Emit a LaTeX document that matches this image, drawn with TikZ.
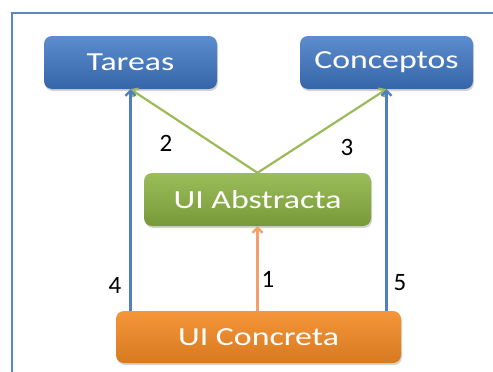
\documentclass[tikz,border=0pt]{standalone}
\usepackage{fontspec}
\setmainfont{Carlito}
\newfontfamily\boxfont{Carlito}[FakeStretch=1.3]
\usetikzlibrary{arrows.meta,shadows}

\definecolor{frameblue}{HTML}{5A87C8}
\definecolor{boxblue}{HTML}{3F78C6}
\definecolor{boxgreen}{HTML}{8DB443}
\definecolor{boxorange}{HTML}{F48A24}
\definecolor{lineblue}{HTML}{4F7FC0}
\definecolor{linegreen}{HTML}{9BBB59}
\definecolor{lineorange}{HTML}{F4A06A}

\tikzset{
  layer/.style={rounded corners=8pt, text=white, font=\boxfont\fontsize{26}{28}\selectfont,
    drop shadow={shadow xshift=1pt, shadow yshift=-2pt, opacity=.35}},
  bluebox/.style={layer, top color=boxblue!85!white, bottom color=boxblue!85!black},
  greenbox/.style={layer, top color=boxgreen!88!white, bottom color=boxgreen!85!black},
  orangebox/.style={layer, top color=boxorange!90!white, bottom color=boxorange!88!black},
  link/.style={line width=2.2pt, -{Straight Barb[length=5pt,width=10pt]}},
  num/.style={font=\fontsize{25}{27}\selectfont, text=black}
}

\begin{document}
\begin{tikzpicture}[x=1pt, y=-1pt]
    \useasboundingbox (0,0) rectangle (493,372);
    % frame
    \draw[frameblue, line width=2pt] (12,372) -- (12,13) -- (493,13);
    % boxes
    \node (tareas) at (130.5,62.5) [bluebox, minimum width=173pt, minimum height=53pt] {Tareas};
    \node (conceptos) at (386.5,62.5) [bluebox, minimum width=173pt, minimum height=53pt] {Conceptos};
    \node (abstracta) at (257.5,199.5) [greenbox, minimum width=227pt, minimum height=53pt] {UI Abstracta};
    \node (concreta) at (258.5,337) [orangebox, minimum width=285pt, minimum height=52pt] {UI Concreta};
    % arrows
    \draw[link, lineorange] (concreta.north -| abstracta.south) -- (abstracta.south);
    \draw[link, linegreen] (abstracta.north) -- (tareas.south);
    \draw[link, linegreen] (abstracta.north) -- (conceptos.south);
    \draw[link, lineblue] (concreta.north -| tareas.south) -- (tareas.south);
    \draw[link, lineblue] (concreta.north -| conceptos.south) -- (conceptos.south);
    % numbers
    \node (n1) at (268,279) [num] {1};
    \node (n2) at (166,143) [num] {2};
    \node (n3) at (347,147) [num] {3};
    \node (n4) at (115,285) [num] {4};
    \node (n5) at (400,283) [num] {5};
\end{tikzpicture}
\end{document}
